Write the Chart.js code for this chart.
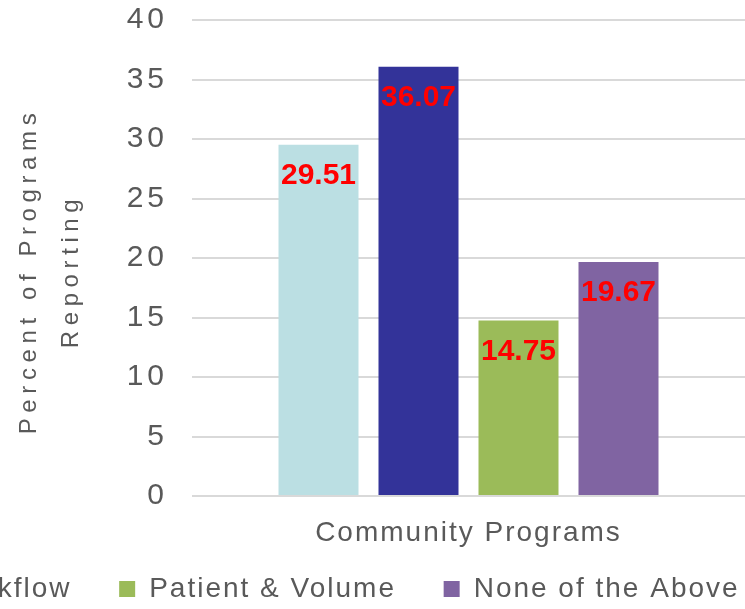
<!DOCTYPE html>
<html>
<head>
<meta charset="utf-8">
<script src="https://cdn.jsdelivr.net/npm/chart.js@4/dist/chart.umd.min.js"></script>
<style>
  html, body { margin: 0; padding: 0; background: #ffffff; overflow: hidden; width: 745px; height: 609px; }
  #wrap { position: absolute; top: 0; left: -325px; width: 1150px; height: 613px; }
  canvas { display: block; }
</style>
</head>
<body>
<div id="wrap"><canvas id="c" width="1150" height="613"></canvas></div>
<script>
// ---- data ----
const categories = ['Community Programs'];
const seriesLabels = ['Staffing', 'Workflow', 'Patient & Volume', 'None of the Above'];
const staffingValues = [29.51];
const workflowValues = [36.07];
const patientVolumeValues = [14.75];
const noneValues = [19.67];
const yTickMin = 0;
const yTickMax = 40;
const yTickStep = 5;
const yTitle = ['Percent of Programs', 'Reporting'];

// ---- style ----
const FONT = '"Liberation Sans", Arial, Helvetica, sans-serif';
const TEXT = '#595959';
const colors = ['#BBDFE3', '#333399', '#9BBB59', '#8064A2'];
const OFFSET_LEFT = 325;   // canvas shifted left so the legend starts off-screen
const CANVAS_W = 1150;
const CANVAS_H = 613;
const PLOT_BOTTOM = 496;

Chart.defaults.font.family = FONT;
Chart.defaults.color = TEXT;

const seriesValues = [staffingValues, workflowValues, patientVolumeValues, noneValues];

const spacingPlugin = {
  id: 'spacing',
  beforeUpdate(chart) { chart.ctx.letterSpacing = '2px'; },
  beforeDraw(chart) {
    chart.ctx.letterSpacing = '2px';
    const y = chart.scales.y;
    if (y && !y._patched) {
      const proto = Object.getPrototypeOf(y);
      y.drawTitle = function () {
        const c = this.ctx; c.save(); c.letterSpacing = '5.6px'; c.translate(0, 13);
        proto.drawTitle.call(this); c.restore();
      };
      y.drawLabels = function (ca) {
        const c = this.ctx; c.save(); c.letterSpacing = '4px';
        proto.drawLabels.call(this, ca); c.restore();
      };
      y._patched = true;
    }
    const x = chart.scales.x;
    if (x && !x._patched) {
      x._computeLabelArea = function () { return undefined; };
      x._patched = true;
    }
  }
};

const barLabelPlugin = {
  id: 'barLabels',
  afterDatasetsDraw(chart) {
    const ctx = chart.ctx;
    ctx.save();
    ctx.letterSpacing = '0px';
    ctx.font = 'bold 30px ' + FONT;
    ctx.fillStyle = '#FF0000';
    ctx.textAlign = 'center';
    ctx.textBaseline = 'middle';
    chart.data.datasets.forEach((ds, i) => {
      const meta = chart.getDatasetMeta(i);
      meta.data.forEach((bar, j) => {
        ctx.fillText(Number(ds.data[j]).toFixed(2), bar.x, bar.y + 31);
      });
    });
    ctx.restore();
  }
};

new Chart(document.getElementById('c'), {
  type: 'bar',
  data: {
    labels: categories,
    datasets: seriesLabels.map((name, i) => ({
      label: name,
      data: seriesValues[i],
      backgroundColor: colors[i],
      borderWidth: 0,
      categoryPercentage: 400 / 553,
      barPercentage: 0.8,
      yAxisID: 'y'
    }))
  },
  options: {
    responsive: false,
    animation: false,
    layout: { autoPadding: false, padding: { top: 20, left: 0, right: 0, bottom: 0 } },
    plugins: {
      tooltip: { enabled: false },
      legend: {
        position: 'bottom',
        align: 'start',
        labels: {
          boxWidth: 16,
          boxHeight: 16,
          padding: 47.7,
          color: TEXT,
          font: { size: 28, family: FONT }
        }
      }
    },
    scales: {
      x: {
        grid: { display: false, drawTicks: false },
        border: { display: false },
        ticks: { color: TEXT, font: { size: 28, family: FONT }, padding: 20 },
        afterFit(scale) {
          scale.height = CANVAS_H - PLOT_BOTTOM - scale.chart.legend.height;
          scale.paddingLeft = 0; scale.paddingRight = 0;
        }
      },
      y: {
        position: 'left',
        min: yTickMin,
        max: yTickMax,
        grid: { color: '#D9D9D9', lineWidth: 2, drawTicks: false },
        border: { display: false },
        ticks: { stepSize: yTickStep, color: TEXT, font: { size: 30, family: FONT }, padding: 24 },
        title: {
          display: true,
          text: yTitle,
          color: TEXT,
          font: { size: 24, family: FONT, lineHeight: 1.75 },
          padding: { top: OFFSET_LEFT + 8, bottom: 0 }
        },
        afterFit(scale) {
          scale.width = 192 + OFFSET_LEFT;
          scale.paddingTop = 0; scale.paddingBottom = 0;
        }
      },
      yR: {
        position: 'right',
        display: true,
        grid: { display: false, drawTicks: false },
        border: { display: false },
        ticks: { display: false },
        afterFit(scale) {
          scale.width = CANVAS_W - OFFSET_LEFT - 745;
          scale.paddingTop = 0; scale.paddingBottom = 0;
        }
      }
    }
  },
  plugins: [spacingPlugin, barLabelPlugin]
});
</script>
</body>
</html>
